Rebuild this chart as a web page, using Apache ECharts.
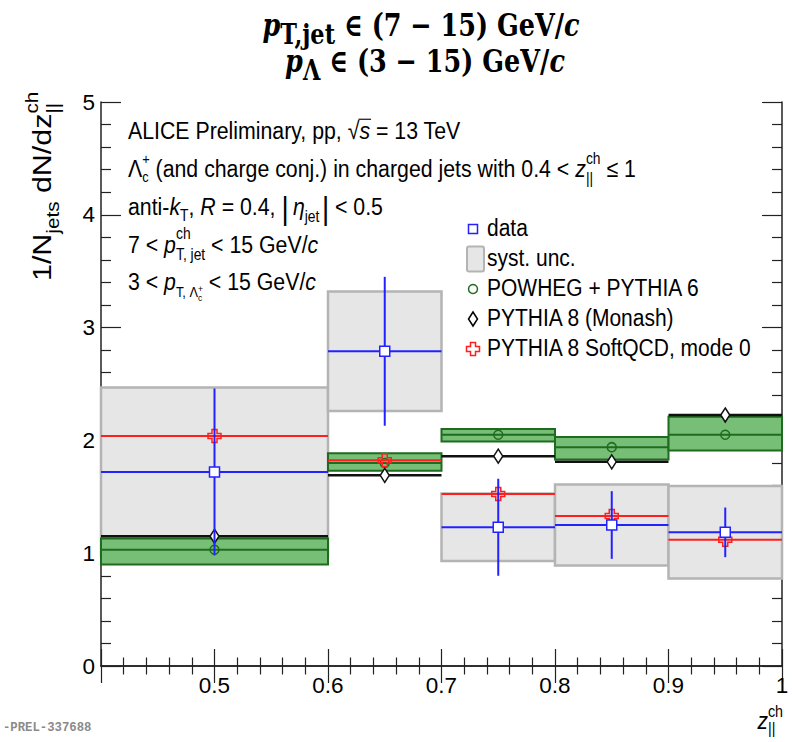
<!DOCTYPE html>
<html><head><meta charset="utf-8">
<script src="https://cdn.jsdelivr.net/npm/echarts@6/dist/echarts.min.js"></script>
<style>html,body{margin:0;padding:0;background:#fff}#c{width:795px;height:742px}</style>
</head><body><div id="c"></div>
<script>
// ---- data ----
const binLow = [0.4, 0.6, 0.7, 0.8, 0.9];
const binHigh = [0.6, 0.7, 0.8, 0.9, 1.0];
const binCenter = [0.5, 0.65, 0.75, 0.85, 0.95];
const dataValues = [1.72, 2.79, 1.23, 1.25, 1.185];
const dataStatErr = [0.74, 0.66, 0.43, 0.30, 0.22];
const dataSystErr = [0.75, 0.53, 0.30, 0.36, 0.41];
const powhegValues = [1.03, 1.80, 2.05, 1.94, 2.05];
const powhegLow = [0.90, 1.73, 1.99, 1.83, 1.91];
const powhegHigh = [1.13, 1.885, 2.10, 2.03, 2.21];
const monashValues = [1.15, 1.69, 1.86, 1.81, 2.225];
const softQcdValues = [2.04, 1.825, 1.525, 1.33, 1.12];
const xTickLabels = ['', '0.5', '0.6', '0.7', '0.8', '0.9', '1'];
const yTickLabels = ['0', '1', '2', '3', '4', '5'];
const legendLabels = ['data', 'syst. unc.', 'POWHEG + PYTHIA 6', 'PYTHIA 8 (Monash)', 'PYTHIA 8 SoftQCD, mode 0'];

const BLUE = '#2222ff', RED = '#ff1f1f', GREEN_FILL = '#77bf76', GREEN_LINE = '#1f6b1f';
const GREY_FILL = '#e6e6e6', GREY_LINE = '#b4b4b4';
const SANS = 'Liberation Sans';

// ---- rich math-like text builder ----
const mctx = document.createElement('canvas').getContext('2d');
function tw(t, st, wt, sz, fam) { mctx.font = st + ' ' + wt + ' ' + sz + 'px "' + fam + '"'; return mctx.measureText(t).width; }
function mathText(segs, o) {
  const kids = [];
  let x = 0;
  const mid = o.mid || 0.35;
  const mk = (seg, x0) => {
    const sz = o.size * (seg.s || 1);
    const st = seg.it ? 'italic' : 'normal';
    const wt = seg.b || o.weight || 'normal';
    const fam = seg.f || o.family;
    const w = tw(seg.t, st, wt, sz, fam);
    const yb = (seg.dy || 0) * o.size;
    kids.push({ type: 'text', x: x0, y: yb - mid * sz, silent: true,
      style: { text: seg.t, fontSize: sz, fontFamily: fam, fontStyle: st, fontWeight: wt,
        fill: seg.c || o.color, align: 'left', verticalAlign: 'middle' } });
    if (seg.over) {
      kids.push({ type: 'line', silent: true, shape: { x1: x0 - 1, y1: yb - 0.8 * sz, x2: x0 + w + 1, y2: yb - 0.8 * sz },
        style: { stroke: o.color, lineWidth: 1 } });
    }
    return w;
  };
  for (const seg of segs) {
    if (seg.stack) {
      let w = 0;
      for (const s of seg.stack) w = Math.max(w, mk(s, x + (s.dx || 0) * o.size));
      x += w;
    } else {
      x += mk(seg, x + (seg.dx || 0) * o.size) + (seg.gap || 0) * o.size;
    }
  }
  const off = o.align === 'center' ? -x / 2 : o.align === 'right' ? -x : 0;
  kids.forEach(k => { if (k.type === 'text') k.x += off; else { k.shape.x1 += off; k.shape.x2 += off; } });
  return { type: 'group', x: o.x, y: o.y, rotation: o.rotation || 0, scaleX: o.sx || 1, scaleY: o.sy || 1, children: kids };
}

const graphics = [];
// Title
const TF = { family: 'DejaVu Serif', weight: 'bold', size: 25.5, color: '#000', align: 'center', mid: 0.33, sy: 1.24 };
graphics.push(mathText([{ t: 'p', it: true }, { t: 'T,jet', s: 0.88, dy: 0.27 }, { t: ' ∈ (7 − 15) GeV/' }, { t: 'c', it: true }],
  Object.assign({}, TF, { x: 421, y: 35 })));
graphics.push(mathText([{ t: 'p', it: true }, { t: 'Λ', s: 0.88, dy: 0.27 }, { t: ' ∈ (3 − 15) GeV/' }, { t: 'c', it: true }],
  Object.assign({}, TF, { x: 425, y: 71 })));

// Annotations
const AF = { family: SANS, size: 21.3, color: '#000', sy: 1.13, x: 128 };
graphics.push(mathText([{ t: 'ALICE Preliminary, pp, ' }, { t: '√' }, { t: 's', it: true, over: true }, { t: ' = 13 TeV' }],
  Object.assign({}, AF, { y: 138.5 })));
graphics.push(mathText([{ t: 'Λ' }, { stack: [{ t: '+', s: 0.6, dy: -0.5 }, { t: 'c', s: 0.6, dy: 0.22 }] },
  { t: ' (and charge conj.) in charged jets with 0.4 < ' }, { t: 'z', it: true },
  { stack: [{ t: 'ch', s: 0.65, dy: -0.5 }, { t: '||', s: 0.65, dy: 0.3 }] }, { t: ' ≤ 1' }],
  Object.assign({}, AF, { y: 176.5 })));
graphics.push(mathText([{ t: 'anti-' }, { t: 'k', it: true }, { t: 'T', s: 0.65, dy: 0.25 }, { t: ', ' }, { t: 'R', it: true },
  { t: ' = 0.4, ' }, { t: '|', s: 1.3, dy: 0.14, gap: 0.2 }, { t: 'η', it: true }, { t: 'jet', s: 0.65, dy: 0.3, gap: 0.12 },
  { t: '|', s: 1.3, dy: 0.14 }, { t: ' < 0.5' }],
  Object.assign({}, AF, { y: 215 })));
graphics.push(mathText([{ t: '7 < ' }, { t: 'p', it: true },
  { stack: [{ t: 'ch', s: 0.65, dy: -0.55 }, { t: 'T, jet', s: 0.65, dy: 0.32 }] }, { t: ' < 15 GeV/' }, { t: 'c', it: true }],
  Object.assign({}, AF, { y: 252.5 })));
graphics.push(mathText([{ t: '3 < ' }, { t: 'p', it: true }, { t: 'T, Λ', s: 0.6, dy: 0.32 },
  { stack: [{ t: '+', s: 0.4, dy: 0.08 }, { t: 'c', s: 0.4, dy: 0.45 }] }, { t: ' < 15 GeV/' }, { t: 'c', it: true }],
  Object.assign({}, AF, { y: 290 })));

// Legend
const LX = 473, LY0 = 229, LDY = 30;
legendLabels.forEach((lab, i) => {
  graphics.push(mathText([{ t: lab }], { family: SANS, size: 21, color: '#000', sy: 1.13, x: 487, y: LY0 + i * LDY + 7.5 }));
});
graphics.push({ type: 'rect', shape: { x: LX - 4.5, y: LY0 - 4.5, width: 9, height: 9 }, style: { fill: '#fff', stroke: BLUE, lineWidth: 1.5 } });
graphics.push({ type: 'rect', shape: { x: 467, y: LY0 + LDY - 12.5, width: 17, height: 25, r: 2 }, style: { fill: GREY_FILL, stroke: GREY_LINE, lineWidth: 2 } });
graphics.push({ type: 'circle', shape: { cx: LX, cy: LY0 + 2 * LDY, r: 4.5 }, style: { fill: 'none', stroke: GREEN_LINE, lineWidth: 1.5 } });
graphics.push({ type: 'polygon', shape: { points: [[LX, LY0 + 3 * LDY - 7], [LX + 4.5, LY0 + 3 * LDY], [LX, LY0 + 3 * LDY + 7], [LX - 4.5, LY0 + 3 * LDY]] }, style: { fill: '#fff', stroke: '#000', lineWidth: 1.5 } });
function crossPts(cx, cy) {
  const a = 2.5, L = 6.5;
  return [[-a, -L], [a, -L], [a, -a], [L, -a], [L, a], [a, a], [a, L], [-a, L], [-a, a], [-L, a], [-L, -a], [-a, -a]].map(p => [cx + p[0], cy + p[1]]);
}
graphics.push({ type: 'polygon', shape: { points: crossPts(LX, LY0 + 4 * LDY) }, style: { fill: '#fff', stroke: RED, lineWidth: 1.5 } });

// Axis titles
graphics.push(mathText([{ t: '1/' }, { t: 'N', it: false }, { t: 'jets', s: 0.68, dy: 0.3 }, { t: ' dN/dz' },
  { stack: [{ t: 'ch', s: 0.68, dy: -0.5 }, { t: '||', s: 0.68, dy: 0.32 }] }],
  { family: SANS, size: 26, color: '#000', x: 51, y: 281, rotation: Math.PI / 2, sx: 1.17 }));
graphics.push(mathText([{ t: 'z', it: true }, { stack: [{ t: 'ch', s: 0.68, dy: -0.55 }, { t: '||', s: 0.68, dy: 0.2 }] }],
  { family: SANS, size: 21, color: '#000', x: 783, y: 729, align: 'right', sy: 1.1 }));
// Watermark (left part is cut off in the reference)
graphics.push({ type: 'text', x: 3, y: 727, silent: true, scaleY: 1.1, style: { text: '-PREL-337688', fontSize: 12.3, fontFamily: 'Liberation Mono', fontWeight: 'bold', fill: '#8a8a8a', verticalAlign: 'middle' } });

// ---- series ----
const rowsModel = (vals) => binCenter.map((c, i) => [c, vals[i], binLow[i], binHigh[i]]);

function lineEl(a, b, color, w) { return { type: 'line', shape: { x1: a[0], y1: a[1], x2: b[0], y2: b[1] }, style: { stroke: color, lineWidth: w } }; }

const series = [
  { type: 'custom', name: 'syst. unc.', z: 2,
    data: binCenter.map((c, i) => [c, dataValues[i], binLow[i], binHigh[i], dataSystErr[i]]),
    encode: { x: 0, y: 1 },
    renderItem: (p, api) => {
      const a = api.coord([api.value(2), api.value(1) + api.value(4)]);
      const b = api.coord([api.value(3), api.value(1) - api.value(4)]);
      return { type: 'rect', shape: { x: a[0], y: a[1], width: b[0] - a[0], height: b[1] - a[1] }, style: { fill: GREY_FILL, stroke: GREY_LINE, lineWidth: 2.5 } };
    } },
  { type: 'custom', name: 'POWHEG + PYTHIA 6', z: 3,
    data: binCenter.map((c, i) => [c, powhegValues[i], binLow[i], binHigh[i], powhegLow[i], powhegHigh[i]]),
    encode: { x: 0, y: 1 },
    renderItem: (p, api) => {
      const c = api.value(0), v = api.value(1), lo = api.value(2), hi = api.value(3);
      const a = api.coord([lo, api.value(5)]), b = api.coord([hi, api.value(4)]);
      const m = api.coord([c, v]);
      return { type: 'group', children: [
        { type: 'rect', shape: { x: a[0], y: a[1], width: b[0] - a[0], height: b[1] - a[1] }, style: { fill: GREEN_FILL, stroke: GREEN_LINE, lineWidth: 2 } },
        lineEl(api.coord([lo, v]), api.coord([hi, v]), GREEN_LINE, 2),
        { type: 'circle', shape: { cx: m[0], cy: m[1], r: 4.5 }, style: { fill: 'none', stroke: GREEN_LINE, lineWidth: 1.5 } }
      ] };
    } },
  { type: 'custom', name: 'PYTHIA 8 (Monash)', z: 4,
    data: rowsModel(monashValues), encode: { x: 0, y: 1 },
    renderItem: (p, api) => {
      const v = api.value(1), m = api.coord([api.value(0), v]);
      return { type: 'group', children: [
        lineEl(api.coord([api.value(2), v]), api.coord([api.value(3), v]), '#111', 2.5),
        { type: 'polygon', shape: { points: [[m[0], m[1] - 7], [m[0] + 4.5, m[1]], [m[0], m[1] + 7], [m[0] - 4.5, m[1]]] }, style: { fill: '#fff', stroke: '#111', lineWidth: 1.5 } }
      ] };
    } },
  { type: 'custom', name: 'PYTHIA 8 SoftQCD, mode 0', z: 5,
    data: rowsModel(softQcdValues), encode: { x: 0, y: 1 },
    renderItem: (p, api) => {
      const v = api.value(1), m = api.coord([api.value(0), v]);
      return { type: 'group', children: [
        lineEl(api.coord([api.value(2), v]), api.coord([api.value(3), v]), RED, 2),
        { type: 'polygon', shape: { points: crossPts(m[0], m[1]) }, style: { fill: 'none', stroke: RED, lineWidth: 1.5 } }
      ] };
    } },
  { type: 'custom', name: 'data', z: 6,
    data: binCenter.map((c, i) => [c, dataValues[i], binLow[i], binHigh[i], dataStatErr[i]]),
    encode: { x: 0, y: 1 },
    renderItem: (p, api) => {
      const c = api.value(0), v = api.value(1), e = api.value(4), m = api.coord([c, v]);
      return { type: 'group', children: [
        lineEl(api.coord([api.value(2), v]), api.coord([api.value(3), v]), BLUE, 2),
        lineEl(api.coord([c, v + e]), api.coord([c, v - e]), BLUE, 2),
        { type: 'rect', shape: { x: m[0] - 5, y: m[1] - 5, width: 10, height: 10 }, style: { fill: '#fff', stroke: BLUE, lineWidth: 1.5 } }
      ] };
    } }
];

const axisLine = { show: true, lineStyle: { color: '#222', width: 1.5 } };
const xBase = { type: 'value', min: 0.4, max: 1.0, interval: 0.1, axisLine, splitLine: { show: false },
  axisTick: { show: true, inside: true, length: 17, lineStyle: { color: '#222', width: 1.2 } },
  minorTick: { show: true, splitNumber: 5, length: 8.5, lineStyle: { color: '#222', width: 1.2 } }, minorSplitLine: { show: false } };
const yBase = { type: 'value', min: 0, max: 5, interval: 1, axisLine, splitLine: { show: false },
  axisTick: { show: true, inside: true, length: 20, lineStyle: { color: '#222', width: 1.2 } },
  minorTick: { show: true, splitNumber: 5, length: 10, lineStyle: { color: '#222', width: 1.2 } }, minorSplitLine: { show: false } };

const option = {
  animation: false,
  backgroundColor: '#fff',
  grid: { left: 101, top: 102, width: 681, height: 564, containLabel: false },
  xAxis: [
    Object.assign({}, xBase, { position: 'bottom',
      axisLabel: { show: true, fontSize: 22.5, fontFamily: SANS, color: '#000', margin: 8, showMinLabel: true, showMaxLabel: true, hideOverlap: false,
        formatter: v => xTickLabels[Math.round((v - 0.4) / 0.1)] || '' } }),
    Object.assign({}, xBase, { position: 'top', axisLabel: { show: false } })
  ],
  yAxis: [
    Object.assign({}, yBase, { position: 'left',
      axisLabel: { show: true, fontSize: 22.5, fontFamily: SANS, color: '#000', margin: 6, showMinLabel: true, showMaxLabel: true,
        formatter: v => yTickLabels[Math.round(v)] } }),
    Object.assign({}, yBase, { position: 'right', axisLabel: { show: false } })
  ],
  series: series.map(s => Object.assign({ coordinateSystem: 'cartesian2d', xAxisIndex: 0, yAxisIndex: 0, silent: true }, s)),
  graphic: graphics
};

const chart = echarts.init(document.getElementById('c'), null, { renderer: 'svg', width: 795, height: 742 });
chart.setOption(option);
</script>
</body></html>
